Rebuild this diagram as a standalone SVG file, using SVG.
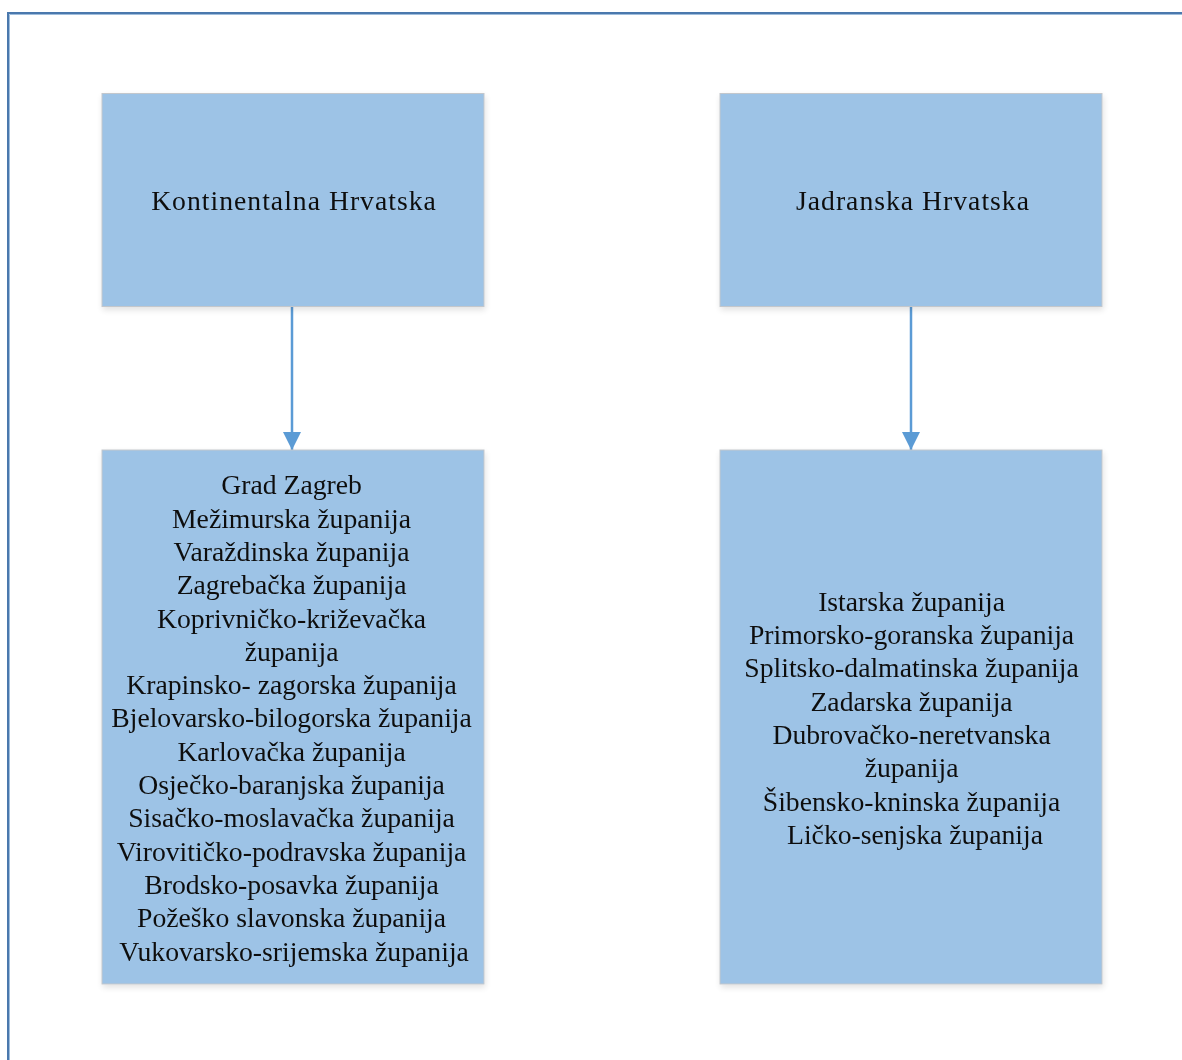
<svg xmlns="http://www.w3.org/2000/svg" width="1182" height="1060" viewBox="0 0 1182 1060">
<style>
.box{fill:#9dc3e6;stroke:#c3c7cc;stroke-width:1}
.t{font-family:"Liberation Serif","Times New Roman",serif;font-size:27.7px;fill:#111;text-anchor:middle}
.h{letter-spacing:1px}
.conn{stroke:#5b9bd5;stroke-width:2.5;fill:none}
</style>
<defs>
<filter id="sh" x="-10%" y="-10%" width="120%" height="120%">
<feGaussianBlur in="SourceAlpha" stdDeviation="3"/>
<feOffset dx="1" dy="3"/>
<feComponentTransfer><feFuncA type="linear" slope="0.12"/></feComponentTransfer>
<feMerge><feMergeNode/><feMergeNode in="SourceGraphic"/></feMerge>
</filter>
<marker id="ah" viewBox="0 0 10 10" refX="10" refY="5" markerWidth="7.2" markerHeight="7.6" markerUnits="strokeWidth" orient="auto">
<path d="M0,0 L10,5 L0,10 z" fill="#5b9bd5"/>
</marker>
</defs>
<rect width="1182" height="1060" fill="#fff"/>
<path d="M8,1062 L8,13 L1184,13" fill="none" stroke="#4a78ad" stroke-width="2"/>
<path d="M9.5,1062 L9.5,14.5 L1184,14.5" fill="none" stroke="#9fbddc" stroke-width="1"/>
<g id="connectors">
<line class="conn" x1="292" y1="307" x2="292" y2="450" marker-end="url(#ah)"/>
<line class="conn" x1="911" y1="307" x2="911" y2="450" marker-end="url(#ah)"/>
</g>
<g id="n1" filter="url(#sh)">
<rect class="box" x="102" y="93.5" width="382" height="213"/>
<text class="t h" x="294" y="209.5">Kontinentalna Hrvatska</text>
</g>
<g id="n2" filter="url(#sh)">
<rect class="box" x="720" y="93.5" width="382" height="213"/>
<text class="t h" x="913" y="209.5">Jadranska Hrvatska</text>
</g>
<g id="n3" filter="url(#sh)">
<rect class="box" x="102" y="450" width="382" height="534"/>
<text class="t">
<tspan x="295" y="494.3">Grad Zagreb</tspan>
<tspan x="295" y="527.6">Mežimurska županija</tspan>
<tspan x="295" y="560.9">Varaždinska županija</tspan>
<tspan x="295" y="594.2">Zagrebačka županija</tspan>
<tspan x="295" y="627.5">Koprivničko-križevačka</tspan>
<tspan x="295" y="660.8">županija</tspan>
<tspan x="295" y="694.1">Krapinsko- zagorska županija</tspan>
<tspan x="295" y="727.4">Bjelovarsko-bilogorska županija</tspan>
<tspan x="295" y="760.7">Karlovačka županija</tspan>
<tspan x="295" y="794">Osječko-baranjska županija</tspan>
<tspan x="295" y="827.3">Sisačko-moslavačka županija</tspan>
<tspan x="295" y="860.6">Virovitičko-podravska županija</tspan>
<tspan x="295" y="893.9">Brodsko-posavka županija</tspan>
<tspan x="295" y="927.2">Požeško slavonska županija</tspan>
<tspan x="294" y="960.5">Vukovarsko-srijemska županija</tspan>
</text>
</g>
<g id="n4" filter="url(#sh)">
<rect class="box" x="720" y="450" width="382" height="534"/>
<text class="t">
<tspan x="915" y="610.7">Istarska županija</tspan>
<tspan x="915" y="644">Primorsko-goranska županija</tspan>
<tspan x="915" y="677.3">Splitsko-dalmatinska županija</tspan>
<tspan x="915" y="710.6">Zadarska županija</tspan>
<tspan x="915" y="743.9">Dubrovačko-neretvanska</tspan>
<tspan x="915" y="777.2">županija</tspan>
<tspan x="915" y="810.5">Šibensko-kninska županija</tspan>
<tspan x="915" y="843.8">Ličko-senjska županija</tspan>
</text>
</g>
</svg>
